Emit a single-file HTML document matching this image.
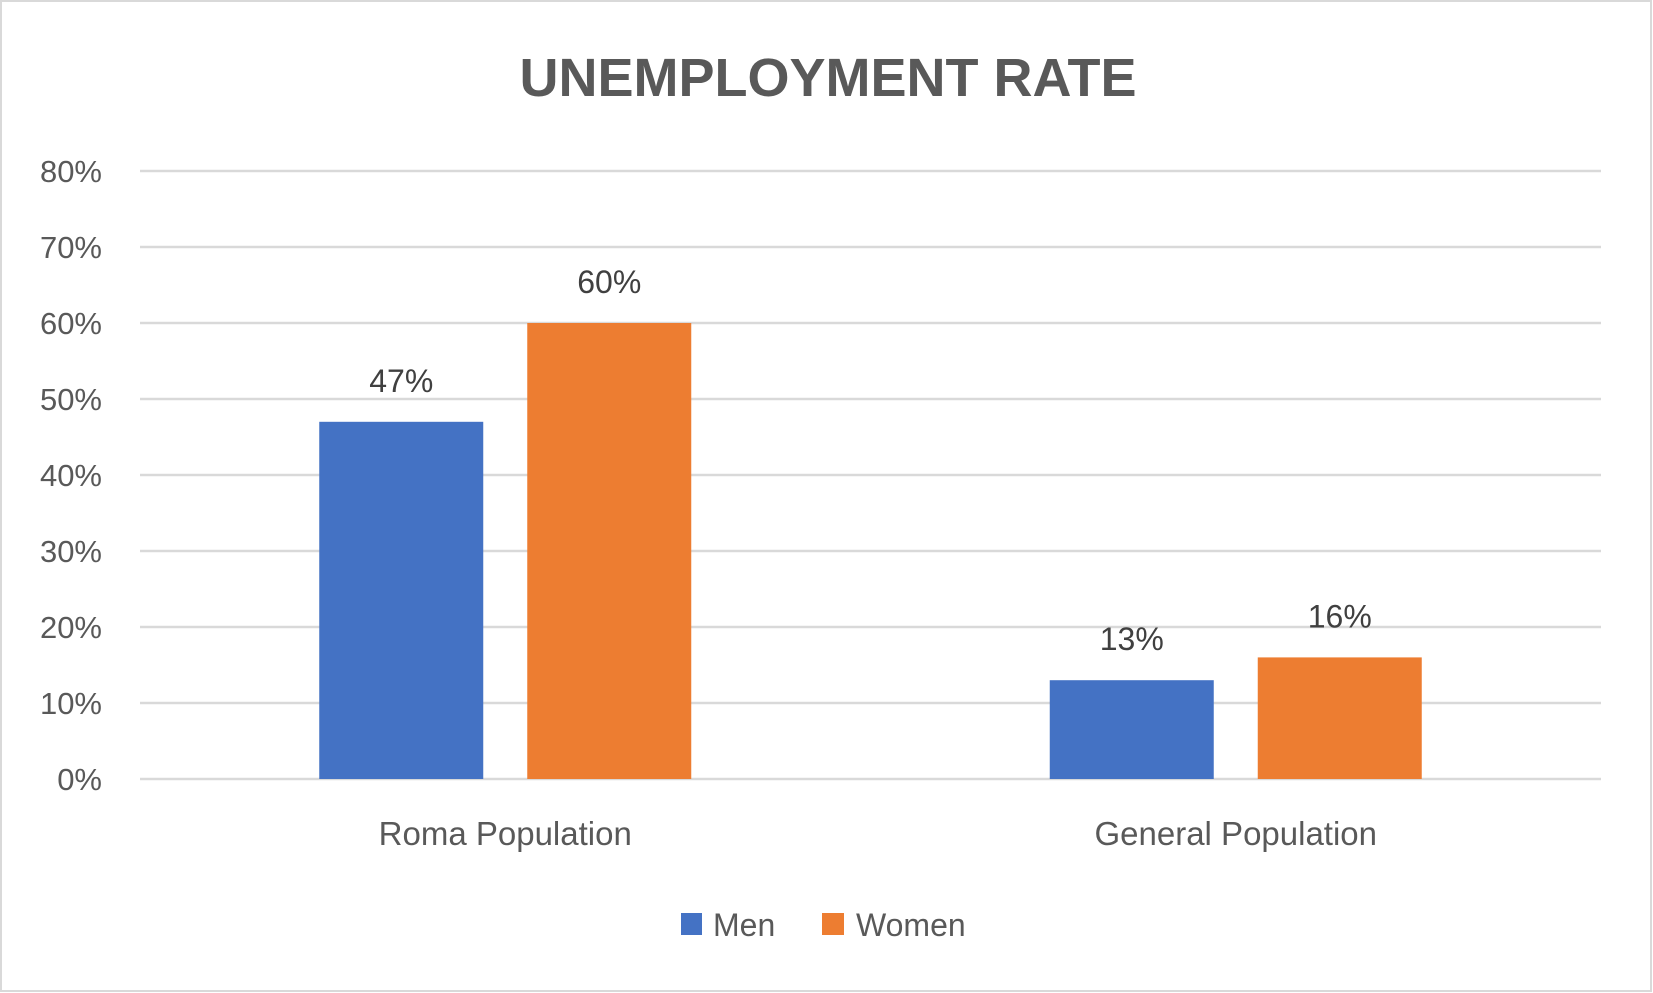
<!DOCTYPE html>
<html><head><meta charset="utf-8"><style>
html,body{margin:0;padding:0;background:#fff;}
svg{display:block;font-family:"Liberation Sans",sans-serif;}
</style></head><body>
<svg id="chart" width="1653" height="993" viewBox="0 0 1653 993">
<rect x="1" y="1" width="1650" height="990" fill="#fff" stroke="#d9d9d9" stroke-width="2"/>
<text x="828" y="96" text-anchor="middle" font-size="54" font-weight="bold" fill="#595959">UNEMPLOYMENT RATE</text>
<g id="grid"></g><g id="bars"></g><g id="labels"></g>
<g>
<rect x="681" y="913" width="21" height="22" fill="#4472c4"/>
<text x="713" y="936" font-size="32" fill="#595959">Men</text>
<rect x="822" y="913" width="22" height="22" fill="#ed7d31"/>
<text x="856" y="936" font-size="32" fill="#595959">Women</text>
</g>
</svg>
<script>
const categories=["Roma Population","General Population"];
const menValues=[47,13];
const womenValues=[60,16];
const tickValues=[0,10,20,30,40,50,60,70,80];
const NS="http://www.w3.org/2000/svg";
const plotL=140,plotR=1601,y0=779,yTop=171,maxV=80;
function y(v){return y0-(y0-yTop)*v/maxV;}
const bandW=(plotR-plotL)/categories.length;
function bandX(i){return plotL+bandW*i;}
function mk(t,a,p){const e=document.createElementNS(NS,t);for(const k in a)e.setAttribute(k,a[k]);p.appendChild(e);return e;}
const grid=document.getElementById('grid'),bars=document.getElementById('bars'),labels=document.getElementById('labels');
tickValues.forEach(v=>{
  const l=mk('line',{x1:plotL,x2:plotR,y1:y(v),y2:y(v),stroke:'#d9d9d9','stroke-width':2.5},grid);
  
  
  const t=mk('text',{x:102,y:y(v)+11,'text-anchor':'end','font-size':31,fill:'#595959'},grid);
  t.textContent=v+'%';
  
  
});
const barW=164,gap=44;
categories.forEach((c,i)=>{
  const cx=bandX(i)+bandW/2;
  const series=[[menValues[i],'#4472c4','men',cx-gap/2-barW],[womenValues[i],'#ed7d31','women',cx+gap/2]];
  series.forEach(s=>{
    const r=mk('rect',{x:s[3],y:y(s[0]),width:barW,height:y0-y(s[0]),fill:s[1]},bars);
    
    
    const t=mk('text',{x:s[3]+barW/2,y:y(s[0])-30,'text-anchor':'middle','font-size':32,fill:'#404040'},labels);
    t.textContent=s[0]+'%';
    
    
  });
  const ct=mk('text',{x:cx,y:845,'text-anchor':'middle','font-size':33,fill:'#595959'},labels);
  ct.textContent=c;
  
  
});
</script>
</body></html>
